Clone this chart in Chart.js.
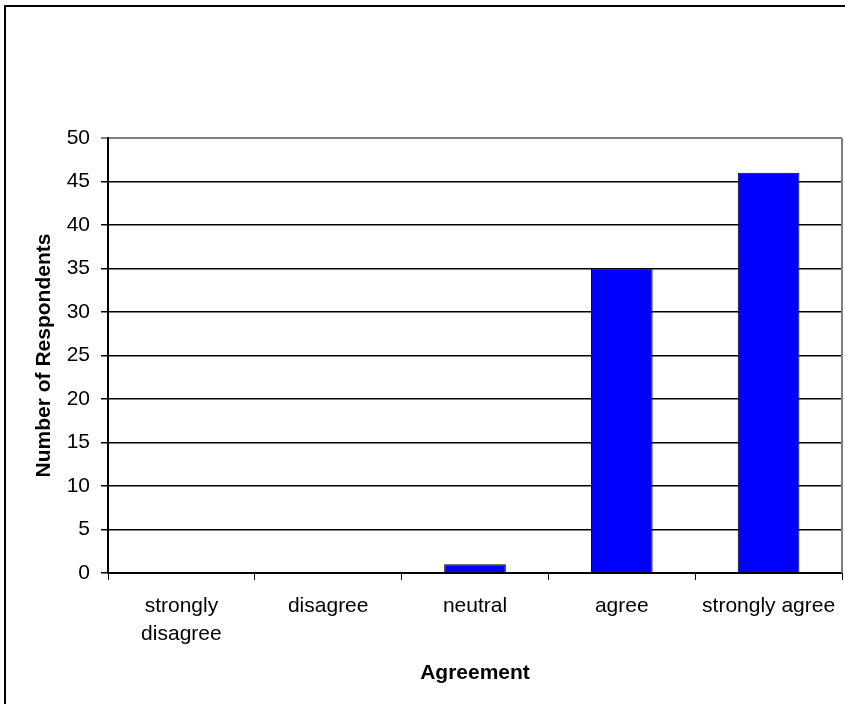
<!DOCTYPE html>
<html>
<head>
<meta charset="utf-8">
<script src="https://cdn.jsdelivr.net/npm/chart.js@4/dist/chart.umd.min.js"></script>
<style>
  html, body { margin: 0; padding: 0; background: #ffffff; }
  #wrap { position: relative; width: 845px; height: 704px; }
</style>
</head>
<body>
<div id="wrap"><canvas id="chart" width="845" height="704"></canvas></div>
<script>
// Survey responses per agreement level
const categories = [["strongly", "disagree"], "disagree", "neutral", "agree", "strongly agree"];
const respondents = [0, 0, 1, 35, 46];
const yMin = 0;
const yMax = 50;
const yStep = 5;

const FONT = "'Liberation Sans', Arial, Helvetica, sans-serif";

// Outer frame and grey plot-area edge
const framePlugin = {
  id: 'frame',
  beforeDraw(chart) {
    const ctx = chart.ctx;
    ctx.save();
    ctx.fillStyle = '#ffffff';
    ctx.fillRect(0, 0, chart.width, chart.height);
    ctx.strokeStyle = '#000000';
    ctx.lineWidth = 2;
    ctx.beginPath();
    ctx.moveTo(5, chart.height);
    ctx.lineTo(5, 6);
    ctx.lineTo(chart.width, 6);
    ctx.stroke();
    ctx.restore();
  },
  afterDatasetsDraw(chart) {
    const { ctx, chartArea } = chart;
    ctx.save();
    ctx.strokeStyle = '#808080';
    ctx.lineWidth = 2;
    ctx.beginPath();
    ctx.moveTo(chartArea.right, chartArea.top);
    ctx.lineTo(chartArea.right, chartArea.bottom);
    ctx.stroke();
    ctx.restore();
  }
};

new Chart(document.getElementById('chart'), {
  type: 'bar',
  data: {
    labels: categories,
    datasets: [{
      data: respondents,
      backgroundColor: '#0000ff',
      borderColor: '#000000',
      borderWidth: 1,
      borderSkipped: 'bottom',
      categoryPercentage: 1,
      barPercentage: 0.42
    }]
  },
  options: {
    responsive: false,
    animation: false,
    layout: { padding: { top: 138, right: 3, left: 0, bottom: 0 } },
    plugins: {
      legend: { display: false },
      tooltip: { enabled: false }
    },
    scales: {
      x: {
        offset: true,
        grid: {
          offset: true,
          drawOnChartArea: false,
          drawTicks: true,
          tickLength: 7,
          color: '#000000',
          lineWidth: 1
        },
        border: { color: '#000000', width: 2 },
        ticks: {
          color: '#000000',
          font: { family: FONT, size: 21, lineHeight: 1.33 },
          padding: 12,
          maxRotation: 0,
          autoSkip: false
        },
        title: {
          display: true,
          text: 'Agreement',
          color: '#000000',
          font: { family: FONT, size: 21, weight: 'bold' },
          padding: { top: 0, bottom: 18 }
        },
        afterFit(scale) {
          scale.height = 131;
          scale.paddingLeft = 0;
          scale.paddingRight = 0;
        }
      },
      y: {
        min: yMin,
        max: yMax,
        grid: {
          color: (c) => (c.tick && c.tick.value === yMax ? '#808080' : '#000000'),
          lineWidth: (c) => (c.tick && c.tick.value === yMax ? 2 : 1.5),
          tickLength: 7,
          drawTicks: true
        },
        border: { color: '#000000', width: 2 },
        ticks: {
          stepSize: yStep,
          color: '#000000',
          font: { family: FONT, size: 21 },
          padding: 11
        },
        title: {
          display: true,
          text: 'Number of Respondents',
          color: '#000000',
          font: { family: FONT, size: 21, weight: 'bold' },
          padding: { top: 32, bottom: 0 }
        },
        afterFit(scale) { scale.width = 108; }
      }
    }
  },
  plugins: [framePlugin]
});
</script>
</body>
</html>
